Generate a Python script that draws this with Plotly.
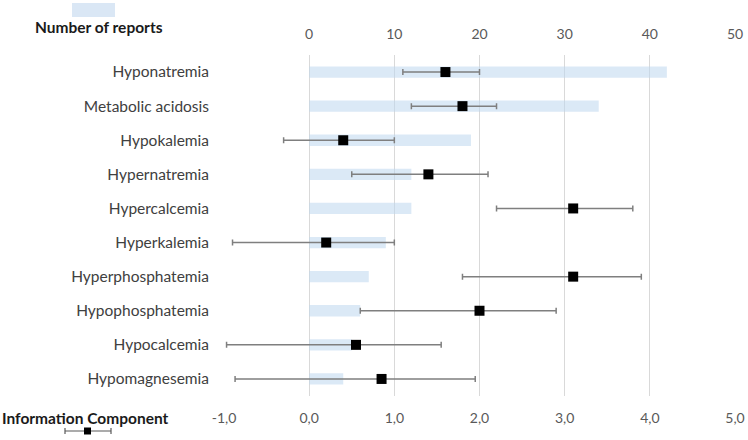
import plotly.graph_objects as go

# data
events = ["Hyponatremia", "Metabolic acidosis", "Hypokalemia", "Hypernatremia",
          "Hypercalcemia", "Hyperkalemia", "Hyperphosphatemia", "Hypophosphatemia",
          "Hypocalcemia", "Hypomagnesemia"]
n_reports = [42, 34, 19, 12, 12, 9, 7, 6, 5, 4]
ic = [1.6, 1.8, 0.4, 1.4, 3.1, 0.2, 3.1, 2.0, 0.55, 0.85]
ic_low = [1.1, 1.2, -0.3, 0.5, 2.2, -0.9, 1.8, 0.6, -0.97, -0.87]
ic_high = [2.0, 2.2, 1.0, 2.1, 3.8, 1.0, 3.9, 2.9, 1.55, 1.95]

W, H = 748, 440
L, R, T, B = 224, 13, 55, 44

# pixel -> paper helpers for the hand made legend
def px(x):
    return (x - L) / (W - L - R)

def py(y):
    return (H - B - y) / (H - T - B)

fig = go.Figure()

fig.add_trace(go.Bar(
    y=events, x=n_reports, orientation="h",
    marker=dict(color="rgba(189,215,238,0.55)", line=dict(width=0)),
    width=0.33, xaxis="x", yaxis="y", name="Number of reports",
))

fig.add_trace(go.Scatter(
    y=events, x=ic, mode="markers",
    marker=dict(symbol="square", size=10, color="black"),
    error_x=dict(type="data", symmetric=False,
                 array=[h - v for h, v in zip(ic_high, ic)],
                 arrayminus=[v - l for v, l in zip(ic, ic_low)],
                 color="#7f7f7f", thickness=1.5, width=3),
    xaxis="x2", yaxis="y", name="Information Component",
))

tickfont = dict(family="Lato", size=14, color="#595959")

fig.update_layout(
    width=W, height=H,
    margin=dict(l=L, r=R, t=T, b=B),
    paper_bgcolor="white", plot_bgcolor="white",
    showlegend=False,
    xaxis=dict(side="top", range=[-10, 50], tickvals=[0, 10, 20, 30, 40, 50],
               showgrid=False, zeroline=False, showline=False, automargin=False,
               tickfont=tickfont, ticklabelstandoff=12),
    xaxis2=dict(overlaying="x", side="bottom", range=[-1, 5],
                tickvals=[-1, 0, 1, 2, 3, 4, 5],
                ticktext=["-1,0", "0,0", "1,0", "2,0", "3,0", "4,0", "5,0"],
                showgrid=True, gridcolor="#d9d9d9", gridwidth=1,
                zeroline=False, showline=False, automargin=False,
                tickfont=tickfont, ticklabelstandoff=12),
    yaxis=dict(categoryorder="array", categoryarray=events,
               range=[len(events) - 0.5, -0.5],
               showgrid=False, zeroline=False, showline=False, automargin=False,
               tickfont=dict(family="Lato", size=15.5, color="#404040"),
               ticklabelstandoff=14),
)

# legend, drawn by hand as in the original
fig.add_shape(type="rect", xref="paper", yref="paper",
              x0=px(72), x1=px(115), y0=py(17), y1=py(3),
              fillcolor="#dae7f5", line=dict(width=0))
fig.add_annotation(xref="paper", yref="paper", x=px(99), y=py(27),
                   xanchor="center", yanchor="middle",
                   text="<b>Number of reports</b>", showarrow=False,
                   font=dict(family="Lato", size=15.5, color="#1a1a1a"))
fig.add_annotation(xref="paper", yref="paper", x=px(85), y=py(418),
                   xanchor="center", yanchor="middle",
                   text="<b>Information Component</b>", showarrow=False,
                   font=dict(family="Lato", size=15.5, color="#1a1a1a"))
fig.add_shape(type="line", xref="paper", yref="paper",
              x0=px(65), x1=px(111), y0=py(431), y1=py(431),
              line=dict(color="#595959", width=1.2))
for cx in (65, 111):
    fig.add_shape(type="line", xref="paper", yref="paper",
                  x0=px(cx), x1=px(cx), y0=py(428), y1=py(434),
                  line=dict(color="#595959", width=1.2))
fig.add_shape(type="rect", xref="paper", yref="paper",
              x0=px(84), x1=px(91), y0=py(434.5), y1=py(427.5),
              fillcolor="black", line=dict(width=0))

fig.write_html("out.html", config={"displayModeBar": False},
               post_script="document.body.style.margin='0';")
